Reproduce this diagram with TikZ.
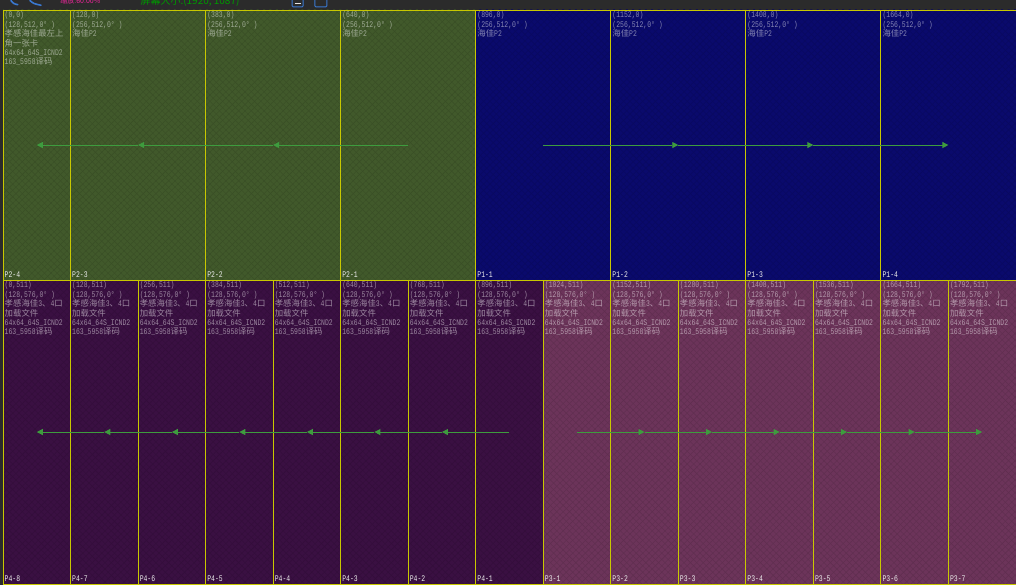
\documentclass[tikz,border=0pt]{standalone}
\usepackage{fontspec}
\newfontfamily\cjk{Noto Sans CJK SC}
\newfontfamily\latn[FakeStretch=0.75]{Liberation Mono}
\newcommand\zh[1]{{\cjk\fontsize{8.4}{9.4}\selectfont #1}}
\usetikzlibrary{arrows.meta,patterns.meta}
\definecolor{bar}{HTML}{2B2B2B}
\definecolor{lgreen}{HTML}{41592B}
\definecolor{lblue}{HTML}{0A0A6C}
\definecolor{lplum}{HTML}{3A1042}
\definecolor{lrose}{HTML}{6C345A}
\definecolor{edge}{HTML}{C8C800}
\definecolor{flow}{HTML}{3E9C3E}
\definecolor{toolblue}{HTML}{3A78D0}
\tikzset{
  panel/.style={fill=#1, inner sep=0pt, outer sep=0pt, anchor=north west,
    postaction={pattern={Lines[angle=45,distance=4.5pt,line width=0.4pt]}, pattern color=#1!88!black},
    postaction={pattern={Lines[angle=-45,distance=4.5pt,line width=0.4pt]}, pattern color=#1!88!black},
    postaction={draw=edge, line width=0.8pt}},
  info/.style={anchor=north west, inner xsep=1.5pt, inner ysep=1.4pt, align=left, text=white, text opacity=0.5,
    font=\latn\fontsize{8.6}{9.4}\selectfont},
  tag/.style={anchor=south west, inner xsep=1.5pt, inner ysep=2.4pt, text=white!85!gray, font=\latn\fontsize{8.6}{8.6}\selectfont},
  link/.style={draw=flow, line width=0.9pt, -{Triangle[length=6pt,width=6pt]}}
}
\begin{document}
\begin{tikzpicture}[x=0.5276pt,y=-0.5276pt]
\useasboundingbox (-5.69,-18.95) rectangle (1920.2,1089.8);
\fill[bar] (-5.69,-18.95) rectangle (1920.2,1089.8);
% tool bar, cut off at the top
\begin{scope}
\clip (-5.69,-18.95) rectangle (1920.2,-0.8);
\draw[toolblue, line width=1.6pt, line cap=round] (15,-18) .. controls (20,-12) .. (28,-10);
\draw[toolblue, line width=1.6pt, line cap=round] (51,-18) .. controls (58,-12) .. (72,-9);
\node[anchor=west, text=magenta!85!white, font=\cjk\fontsize{7}{7}\selectfont] (zoomtxt) at (102,-17) {缩放:60.00\%};
\node[anchor=west, text=green!60!black, font=\cjk\fontsize{10}{10}\selectfont] (sizetxt) at (254,-16) {屏幕大小:(1920, 1087)};
\draw[toolblue, line width=1pt, rounded corners=1pt] (548,-28) rectangle (569,-6);
\draw[white!80!gray, line width=1pt] (553,-13) -- (564,-13);
\draw[toolblue, line width=1pt, rounded corners=1pt] (591,-28) rectangle (614,-6);
\end{scope}
% P2 / P1 row
\foreach \nm/\x/\w/\c/\lbl in {p24/0/128/lgreen/P2-4, p23/128/256/lgreen/P2-3, p22/384/256/lgreen/P2-2, p21/640/256/lgreen/P2-1,
  p11/896/256/lblue/P1-1, p12/1152/256/lblue/P1-2, p13/1408/256/lblue/P1-3, p14/1664/256/lblue/P1-4}
{
  \node[panel=\c, minimum width=\w*0.5276pt, minimum height=270.1pt] (\nm) at (\x,0) {};
  \node[tag] (\nm t) at (\nm.south west) {\lbl};
}
\node[info] (p24i) at (p24.north west) {(0,0)\\(128,512,0° )\\\zh{孝感海佳最左上}\\\zh{角一张卡}\\64x64\_64S\_ICND2\\163\_5958\zh{译码}};
\foreach \nm/\pos in {p23/128, p22/383, p21/640, p11/896, p12/1152, p13/1408, p14/1664}
  \node[info] (\nm i) at (\nm.north west) {(\pos,0)\\(256,512,0° )\\\zh{海佳}P2};
% P4 / P3 row
\foreach \nm/\x/\c/\lbl in {q48/0/lplum/P4-8, q47/128/lplum/P4-7, q46/256/lplum/P4-6, q45/384/lplum/P4-5,
  q44/512/lplum/P4-4, q43/640/lplum/P4-3, q42/768/lplum/P4-2, q41/896/lplum/P4-1,
  q31/1024/lrose/P3-1, q32/1152/lrose/P3-2, q33/1280/lrose/P3-3, q34/1408/lrose/P3-4,
  q35/1536/lrose/P3-5, q36/1664/lrose/P3-6, q37/1792/lrose/P3-7}
{
  \node[panel=\c, minimum width=67.53pt, minimum height=303.9pt] (\nm) at (\x,512) {};
  \node[info] (\nm i) at (\nm.north west) {(\x,511)\\(128,576,0° )\\\zh{孝感海佳}3\zh{、}4\zh{口}\\\zh{加载文件}\\64x64\_64S\_ICND2\\163\_5958\zh{译码}};
  \node[tag] (\nm t) at (\nm.south west) {\lbl};
}
% cabling
\foreach \a/\b in {p21/p22, p22/p23, p23/p24, p11/p12, p12/p13, p13/p14,
  q41/q42, q42/q43, q43/q44, q44/q45, q45/q46, q46/q47, q47/q48,
  q31/q32, q32/q33, q33/q34, q34/q35, q35/q36, q36/q37}
  \draw[link] (\a.center) -- (\b.center);
\end{tikzpicture}
\end{document}
